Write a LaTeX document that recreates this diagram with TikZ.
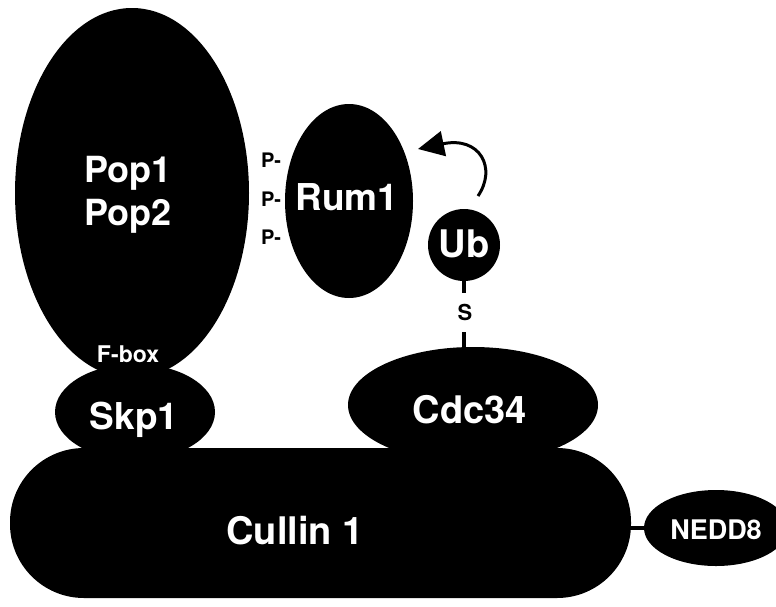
\documentclass[tikz,border=0pt]{standalone}
\usepackage{fontspec}
\setmainfont{TeX Gyre Heros}
\usetikzlibrary{shapes.geometric,arrows.meta}
\begin{document}
\begin{tikzpicture}[x=1pt,y=-1pt,
  blob/.style={ellipse,fill=black,draw=none,inner sep=0pt},
  wlabel/.style={text=white,anchor=base,inner sep=0pt,font=\bfseries\fontsize{#1}{#1}\selectfont},
  blabel/.style={text=black,anchor=base,inner sep=0pt,font=\bfseries\fontsize{#1}{#1}\selectfont},
  bond/.style={line width=4.5pt},
  ubarrow/.style={line width=3pt,-{Triangle[length=26pt,width=25pt]}}]
\useasboundingbox (0,0) rectangle (776,606);
\clip (0,0) rectangle (776,606);

% protein bodies
\node[blob,minimum width=234pt,minimum height=370pt] (pop) at (132,193) {};
\node[blob,minimum width=160pt,minimum height=96pt] (skp) at (135,412) {};
\node[blob,minimum width=128pt,minimum height=194pt] (rum) at (349,201) {};
\node[circle,fill=black,inner sep=0pt,minimum size=72pt] (ub) at (464,245) {};
\node[blob,minimum width=250pt,minimum height=116pt] (cdc) at (473,405) {};
\node[fill=black,rounded corners=74pt,inner sep=0pt,minimum width=621pt,minimum height=150pt] (cul) at (320.5,523) {};
\node[blob,minimum width=144pt,minimum height=76pt] (ned) at (716,528) {};

% thioester link Ub--Cdc34 and the NEDD8 tether
\draw[bond] (ub.south) -- (ub.south |- cdc.north);
\node[fill=white,inner sep=0pt,minimum width=22pt,minimum height=39pt] (sbox) at (465,312) {};
\node[blabel=22] (s) at (465,320) {S};
\draw[bond] (ned.west) -- (ned.west -| cul.east);

% transfer of ubiquitin onto Rum1
\coordinate (arrS) at (478,196);
\coordinate (arrE) at (418,149);
\draw[ubarrow] (arrS) .. controls (497,168) and (480,136) .. (arrE);

% labels
\node[wlabel=36] (pop1) at (128,182) {Pop1};
\node[wlabel=36] (pop2) at (128,225) {Pop2};
\node[wlabel=23] (fbox) at (128,362) {F-box};
\node[wlabel=37] (skpL) at (134,429) {Skp1};
\node[wlabel=37] (rumL) at (347,210) {Rum1};
\node[wlabel=38] (ubL) at (464,257) {Ub};
\node[wlabel=38] (cdcL) at (470,423) {Cdc34};
\node[wlabel=38] (culL) at (295,544) {Cullin 1};
\node[wlabel=27] (nedL) at (716,539) {NEDD8};
\node[blabel=20] (p1) at (271,167) {P-};
\node[blabel=20] (p2) at (271,206) {P-};
\node[blabel=20] (p3) at (271,244) {P-};
\end{tikzpicture}
\end{document}
